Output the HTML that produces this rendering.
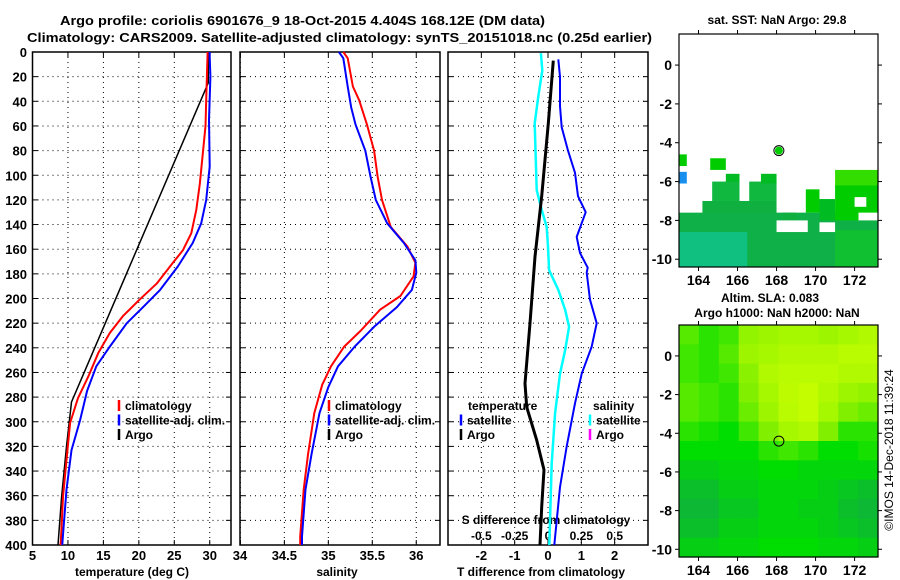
<!DOCTYPE html>
<html><head><meta charset="utf-8">
<style>
html,body{margin:0;padding:0;background:#fff;}
svg{display:block;font-family:"Liberation Sans",Arial,sans-serif;font-weight:bold;}
</style></head>
<body>
<svg id="fig" width="900" height="580" viewBox="0 0 900 580" xmlns="http://www.w3.org/2000/svg">
<text x="60" y="25" font-size="13" textLength="485" lengthAdjust="spacingAndGlyphs">Argo profile: coriolis 6901676_9 18-Oct-2015 4.404S 168.12E (DM data)</text>
<text x="27" y="42" font-size="13" textLength="625" lengthAdjust="spacingAndGlyphs">Climatology: CARS2009. Satellite-adjusted climatology: synTS_20151018.nc (0.25d earlier)</text>
<g id="panels"></g>
<text x="777" y="24" font-size="12" text-anchor="middle">sat. SST: NaN Argo: 29.8</text>
<text x="770" y="302" font-size="12" text-anchor="middle">Altim. SLA: 0.083</text>
<text x="777" y="317" font-size="12" text-anchor="middle">Argo h1000: NaN h2000: NaN</text>
<text transform="translate(893,450) rotate(-90)" font-size="12" font-weight="normal" text-anchor="middle">©IMOS 14-Dec-2018 11:39:24</text>
</svg>
<script>
// ---- data ----
const depthTicks = [0,20,40,60,80,100,120,140,160,180,200,220,240,260,280,300,320,340,360,380,400];
const tempTicks = [5,10,15,20,25,30];
const salTicks = [34,34.5,35,35.5,36];
const salTickLabels = ["34","34.5","35","35.5","36"];
const tdiffTicks = [-2,-1,0,1,2];
const sdiffTicks = [-0.5,-0.25,0,0.25,0.5];
const sdiffTickLabels = ["-0.5","-0.25","0","0.25","0.5"];

const tClimDepth = [0,20,39,60,80,107,128,147,161,171,188,201,214,228,244,263,281,301,331,361,396,400];
const tClimVal   = [29.7,29.6,29.5,29.4,29.06,28.6,28.1,27.4,26.2,24.8,22.5,20.1,17.8,15.9,14.3,12.9,11.4,10.3,9.8,9.3,9.0,8.95];
const tSatDepth = [0,4,20,55,93,120,139,155,174,193,207,220,239,255,275,299,323,355,396,400];
const tSatVal   = [30.0,30.0,30.1,29.9,30.0,29.5,28.8,27.6,25.5,23.0,20.6,18.3,15.9,14.0,12.7,11.7,10.5,9.8,9.25,9.2];
const tArgoDepth = [0,5,25,284,320,361,400];
const tArgoVal   = [29.8,29.8,29.8,10.5,9.8,9.1,8.6];

const sClimDepth = [0,5,28,39,59,80,101,120,142,158,171,182,198,209,226,239,255,270,293,326,355,393,400];
const sClimVal   = [35.17,35.22,35.28,35.35,35.44,35.52,35.56,35.61,35.71,35.9,35.99,35.97,35.82,35.59,35.37,35.18,35.03,34.93,34.84,34.77,34.72,34.68,34.68];
const sSatDepth = [0,5,28,45,59,80,101,120,139,155,169,179,193,207,223,239,255,272,293,326,355,393,400];
const sSatVal   = [35.12,35.17,35.22,35.26,35.31,35.42,35.48,35.54,35.67,35.86,35.99,36.0,35.95,35.78,35.52,35.3,35.11,35.0,34.9,34.81,34.74,34.7,34.7];

const dTSatDepth = [6,20,44,61,80,98,117,130,150,163,175,179,201,220,239,261,285,320,353,400];
const dTSatVal   = [0.31,0.36,0.36,0.41,0.6,0.81,0.9,1.13,0.86,0.96,1.19,1.16,1.26,1.46,1.31,1.01,0.81,0.56,0.36,0.19];
const dTArgoDepth = [7,58,117,166,220,269,288,315,339,369,400];
const dTArgoVal   = [0.16,0.01,-0.19,-0.39,-0.54,-0.69,-0.64,-0.34,-0.12,-0.19,-0.24];
const dSSatDepth = [1,15,36,58,85,112,128,142,158,177,193,209,223,242,261,293,334,400];
const dSSatVal   = [-0.053,-0.043,-0.073,-0.1,-0.092,-0.085,-0.047,-0.01,0,0.008,0.077,0.128,0.158,0.128,0.09,0.053,0.028,0.01];

// map data
const lonTicks = [164,166,168,170,172];
const latTicks = [0,-2,-4,-6,-8,-10];
const argoLon = 168.12, argoLat = -4.404;
const sstRects = [
 [163.0,-4.6,163.4,-5.2,"#00cc00"],[163.0,-5.5,163.4,-6.1,"#1890f0"],
 [164.6,-4.8,165.4,-5.4,"#00cc00"],[165.4,-5.6,166.1,-6.2,"#00bb22"],
 [164.7,-6.0,166.1,-7.0,"#10b840"],[166.6,-6.0,168.0,-7.0,"#10b840"],
 [167.2,-5.6,168.0,-6.1,"#00bb22"],[164.2,-7.0,168.0,-8.0,"#10b040"],
 [163.0,-7.6,173.2,-10.4,"#10b048"],[163.0,-8.6,166.5,-10.4,"#10c080"],
 [168.3,-7.6,169.0,-8.0,"#10b040"],[169.5,-6.4,170.2,-7.6,"#00cc00"],
 [170.2,-6.9,171.0,-8.0,"#00bb22"],[171.0,-5.4,173.2,-6.3,"#33dd00"],
 [171.0,-6.2,173.2,-8.0,"#00cc00"],[171.0,-8.5,173.2,-10.4,"#10c030"]
];
const sstWhite = [[172.0,-6.8,172.6,-7.3],[170.2,-8.1,171.0,-8.6],[172.2,-7.6,173.2,-8.0],[168.0,-8.0,169.6,-8.6]];
const slaGrid = [
 [.5,.4,.45,.7,.75,.8,.8,.75,.8,.85],
 [.45,.4,.5,.75,.8,.85,.85,.85,.9,.9],
 [.45,.4,.45,.65,.85,.9,.9,.9,.85,.85],
 [.5,.45,.4,.6,.8,.92,.95,.85,.75,.7],
 [.5,.45,.4,.55,.75,.9,.95,.8,.6,.55],
 [.4,.35,.3,.45,.6,.8,.85,.6,.4,.4],
 [.3,.3,.3,.3,.4,.45,.4,.3,.3,.35],
 [.2,.2,.25,.25,.3,.3,.25,.25,.25,.25],
 [.1,.1,.2,.2,.25,.25,.25,.2,.15,.1],
 [.05,.05,.15,.15,.25,.25,.2,.2,.1,.05],
 [.1,.1,.2,.2,.25,.25,.25,.2,.15,.1],
 [.2,.2,.25,.25,.3,.3,.3,.25,.25,.2]
];

// ---- drawing ----
const NS="http://www.w3.org/2000/svg";
const root=document.getElementById('panels');
function mk(tag,attrs,parent){const e=document.createElementNS(NS,tag);for(const k in attrs)e.setAttribute(k,attrs[k]);(parent||root).appendChild(e);return e;}
const Y0=52,Y1=545;
function yD(d){return Y0+(d/400)*(Y1-Y0);}
function lin(d0,d1,r0,r1){return v=>r0+(v-d0)/(d1-d0)*(r1-r0);}

function frame(x0,x1,xt,xs,name){
  const g=mk('g',{});
  
  
  xt.forEach(v=>{const x=xs(v);mk('line',{x1:x,x2:x,y1:Y0,y2:Y1,stroke:'#000','stroke-width':1,'stroke-dasharray':'1,4'},g);
    mk('line',{x1:x,x2:x,y1:Y0,y2:Y0+5,stroke:'#000'},g);mk('line',{x1:x,x2:x,y1:Y1,y2:Y1-5,stroke:'#000'},g);});
  depthTicks.forEach(d=>{const y=yD(d);if(d>0&&d<400)mk('line',{x1:x0,x2:x1,y1:y,y2:y,stroke:'#000','stroke-dasharray':'1,4'},g);
    mk('line',{x1:x0,x2:x0+5,y1:y,y2:y,stroke:'#000'},g);mk('line',{x1:x1,x2:x1-5,y1:y,y2:y,stroke:'#000'},g);});
  mk('rect',{x:x0,y:Y0,width:x1-x0,height:Y1-Y0,fill:'none',stroke:'#000','stroke-width':1.5},g);
  return g;
}
function curve(depths,vals,xs,color,w,name){
  const pts=depths.map((d,i)=>xs(vals[i]).toFixed(1)+','+yD(d).toFixed(1)).join(' ');
  const p=mk('polyline',{points:pts,fill:'none',stroke:color,'stroke-width':w,'stroke-linejoin':'round'});
  
  
}
function txt(x,y,s,opts,name){const t=mk('text',Object.assign({x:x,y:y,'font-size':12},opts||{}));t.textContent=s;
  
  return t;}
function legend(x,y,items,prefix){items.forEach((it,i)=>{const yy=y+i*14.5;
  if(it[0])mk('line',{x1:x,x2:x,y1:yy-10,y2:yy+1,stroke:it[0],'stroke-width':2.5});
  txt(x+6,yy,it[1],{},prefix+'-'+i);});}

// Panel 1: temperature
const xT=lin(5,33,32.5,231);
frame(32.5,231,tempTicks,xT,'temperature-panel');
depthTicks.forEach(d=>txt(27,yD(d)+5,String(d),{'text-anchor':'end','font-size':13},'depth-tick-label'));
tempTicks.forEach(v=>txt(xT(v),560,String(v),{'text-anchor':'middle','font-size':13},'temp-tick-label'));
txt(240,560,'34',{'text-anchor':'middle','font-size':13},'sal-tick-label');
txt(132,576,'temperature (deg C)',{'text-anchor':'middle'},'x-axis-title-temperature');
curve(tArgoDepth,tArgoVal,xT,'#000',1.5,'argo-temperature-line');
curve(tClimDepth,tClimVal,xT,'#f00',2,'climatology-temperature-line');
curve(tSatDepth,tSatVal,xT,'#00f',2,'satellite-temperature-line');
legend(119,410,[['#f00','climatology'],['#00f','satellite-adj. clim.'],['#000','Argo']],'temperature-legend-entry');

// Panel 2: salinity
const xS=lin(34,36.27,240.4,440);
frame(240,440,salTicks,xS,'salinity-panel');
salTicks.forEach((v,i)=>{if(i>0)txt(xS(v),560,salTickLabels[i],{'text-anchor':'middle','font-size':13},'sal-tick-label');});
txt(337,576,'salinity',{'text-anchor':'middle'},'x-axis-title-salinity');
curve(sClimDepth,sClimVal,xS,'#f00',2,'climatology-salinity-line');
curve(sSatDepth,sSatVal,xS,'#00f',2,'satellite-salinity-line');
legend(329,410,[['#f00','climatology'],['#00f','satellite-adj. clim.'],['#000','Argo']],'salinity-legend-entry');

// Panel 3: differences
const xDT=lin(-3,3,448,648);
const xDS=lin(-0.75,0.75,448,648);
frame(448,648,tdiffTicks,xDT,'difference-panel');
tdiffTicks.forEach(v=>txt(xDT(v),560,String(v),{'text-anchor':'middle','font-size':13},'tdiff-tick-label'));
sdiffTicks.forEach((v,i)=>txt(xDS(v),540,sdiffTickLabels[i],{'text-anchor':'middle'},'sdiff-tick-label'));
txt(546,524,'S difference from climatology',{'text-anchor':'middle'},'s-difference-axis-title');
txt(541,576,'T difference from climatology',{'text-anchor':'middle'},'t-difference-axis-title');
curve(dSSatDepth,dSSatVal,xDS,'#0ff',2.5,'salinity-difference-satellite-line');
curve(dTArgoDepth,dTArgoVal,xDT,'#000',3,'temperature-difference-argo-line');
curve(dTSatDepth,dTSatVal,xDT,'#00f',2,'temperature-difference-satellite-line');
txt(468,410,'temperature',{},'legend-header-temperature');
legend(461,424.5,[['#00f','satellite'],['#000','Argo']],'tdiff-legend-entry');
txt(593,410,'salinity',{},'legend-header-salinity');
legend(590,424.5,[['#0ff','satellite'],['#f0f','Argo']],'sdiff-legend-entry');

// Maps
function mapFrame(top,bot,name){
  const g=mk('g',{});
  
  
  const xl=lin(163,173.2,679,878), yl=lin(1.6,-10.4,top,bot);
  return {g,xl,yl,top,bot};
}
function mapAxes(m,prefix){
  const {g,xl,yl,top,bot}=m;
  mk('rect',{x:679,y:top,width:199,height:bot-top,fill:'none',stroke:'#000','stroke-width':1.2},g);
  lonTicks.forEach(v=>{const x=xl(v);mk('line',{x1:x,x2:x,y1:top,y2:top-4,stroke:'#000'},g);mk('line',{x1:x,x2:x,y1:bot,y2:bot+4,stroke:'#000'},g);
    txt(x,bot+18,String(v),{'text-anchor':'middle','font-size':14},prefix+'-lon-label');});
  latTicks.forEach(v=>{const y=yl(v);mk('line',{x1:878,x2:882,y1:y,y2:y,stroke:'#000'},g);mk('line',{x1:679,x2:675,y1:y,y2:y,stroke:'#000'},g);
    txt(672,y+5,String(v),{'text-anchor':'end','font-size':14},prefix+'-lat-label');});
  const c=mk('circle',{cx:xl(argoLon),cy:yl(argoLat),r:5,fill:'none',stroke:'#000','stroke-width':1},g);
  
  
}
const m1=mapFrame(34,267,'sst-map');
mk('rect',{x:679,y:34,width:199,height:233,fill:'#fff'},m1.g);
sstRects.forEach(r=>{const x=m1.xl(r[0]),y=m1.yl(r[1]);
  const e=mk('rect',{x:x,y:y,width:m1.xl(r[2])-x,height:m1.yl(r[3])-y,fill:r[4]},m1.g);
  
  });
sstWhite.forEach(r=>{const x=m1.xl(r[0]),y=m1.yl(r[1]);mk('rect',{x:x,y:y,width:m1.xl(r[2])-x,height:m1.yl(r[3])-y,fill:'#fff'},m1.g);});
mk('circle',{cx:m1.xl(argoLon),cy:m1.yl(argoLat),r:4,fill:'#00cc00'},m1.g);
mapAxes(m1,'sst-map');

const m2=mapFrame(325,557,'sla-map');
function slaColor(v){const stops=[[0,[16,176,64]],[0.3,[0,221,0]],[0.6,[128,240,0]],[1,[204,255,0]]];
  for(let i=1;i<stops.length;i++){if(v<=stops[i][0]){const a=stops[i-1],b=stops[i],t=(v-a[0])/(b[0]-a[0]);
    return 'rgb('+a[1].map((c,k)=>Math.round(c+(b[1][k]-c)*t)).join(',')+')';}}return 'rgb(204,255,0)';}
const nr=slaGrid.length,nc=slaGrid[0].length,cw=199/nc,ch=(557-325)/nr;
slaGrid.forEach((row,r)=>row.forEach((v,c)=>{
  const e=mk('rect',{x:679+c*cw,y:325+r*ch,width:cw+0.6,height:ch+0.6,fill:slaColor(v)},m2.g);
  
  }));
mapAxes(m2,'sla-map');
</script>
</body></html>
